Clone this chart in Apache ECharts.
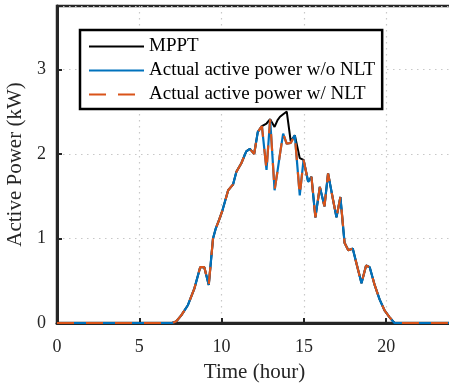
<!DOCTYPE html>
<html>
<head>
<meta charset="utf-8">
<script src="https://cdn.jsdelivr.net/npm/echarts@6/dist/echarts.min.js"></script>
<style>
html,body{margin:0;padding:0;background:#fff;}
#chart{width:449px;height:389px;}
</style>
</head>
<body>
<div id="chart"></div>
<script>
// Time (hour)
var times = [0, 7.0, 7.25, 7.55, 7.95, 8.35, 8.7, 8.95, 9.22, 9.48, 9.65, 9.85, 10.05, 10.4, 10.7, 10.9, 11.2, 11.5, 11.72, 11.98, 12.2, 12.45, 12.73, 12.95, 13.22, 13.4, 13.55, 13.74, 13.96, 14.2, 14.45, 14.75, 14.98, 15.26, 15.46, 15.7, 15.97, 16.25, 16.47, 16.78, 16.98, 17.22, 17.47, 17.7, 17.97, 18.2, 18.5, 18.78, 19.0, 19.3, 19.6, 19.9, 20.2, 20.5, 24];
// MPPT available power (kW)
var mppt = [0, 0, 0.02, 0.09, 0.21, 0.41, 0.66, 0.66, 0.45, 1.0, 1.12, 1.22, 1.33, 1.57, 1.64, 1.79, 1.89, 2.03, 2.06, 2.0, 2.26, 2.33, 2.36, 2.41, 2.32, 2.40, 2.44, 2.47, 2.50, 2.15, 2.22, 1.95, 1.93, 1.67, 1.73, 1.25, 1.61, 1.38, 1.77, 1.45, 1.25, 1.49, 0.95, 0.86, 0.88, 0.70, 0.47, 0.68, 0.66, 0.45, 0.28, 0.15, 0.07, 0, 0];
// Actual active power without NLT (kW)
var actualWo = [0, 0, 0.02, 0.09, 0.21, 0.41, 0.66, 0.66, 0.45, 1.0, 1.12, 1.22, 1.33, 1.57, 1.64, 1.79, 1.89, 2.03, 2.06, 2.0, 2.26, 2.33, 1.81, 2.41, 1.57, 1.80, 2.00, 2.24, 2.12, 2.13, 2.22, 1.51, 1.93, 1.67, 1.73, 1.25, 1.61, 1.38, 1.77, 1.45, 1.25, 1.49, 0.95, 0.86, 0.88, 0.70, 0.47, 0.68, 0.66, 0.45, 0.28, 0.15, 0.07, 0, 0];
// Actual active power with NLT (kW)
var actualW = [0, 0, 0.02, 0.09, 0.21, 0.41, 0.66, 0.66, 0.45, 1.0, 1.12, 1.22, 1.33, 1.57, 1.64, 1.79, 1.89, 2.03, 2.06, 2.0, 2.26, 2.33, 1.81, 2.41, 1.57, 1.80, 2.00, 2.24, 2.12, 2.13, 2.22, 1.51, 1.93, 1.67, 1.73, 1.25, 1.61, 1.38, 1.77, 1.45, 1.25, 1.49, 0.95, 0.86, 0.88, 0.70, 0.47, 0.68, 0.66, 0.45, 0.28, 0.15, 0.07, 0, 0];

var seriesNames = ['MPPT', 'Actual active power w/o NLT', 'Actual active power w/ NLT'];
var xTicks = [0, 5, 10, 15, 20];
var yTicks = [0, 1, 2, 3];

function pairs(ys) { return times.map(function (t, i) { return [t, ys[i]]; }); }

var FONT = '"Liberation Serif", "Times New Roman", serif';
var DARK = '#262626';
var chart = echarts.init(document.getElementById('chart'), null, {renderer: 'canvas'});
chart.setOption({
  animation: false,
  backgroundColor: '#fff',
  grid: {left: 57, top: 6, width: 395, height: 317, outerBoundsMode: 'none', containLabel: false,
    show: true, borderColor: DARK, borderWidth: 2.5, backgroundColor: 'transparent'},
  legend: {
    orient: 'vertical', left: 80, top: 30,
    padding: [7, 7, 5, 8], itemGap: 5, itemWidth: 55, itemHeight: 18,
    borderColor: '#000', borderWidth: 2.5, backgroundColor: '#fff',
    itemStyle: {opacity: 0},
    textStyle: {fontFamily: FONT, fontSize: 19, color: '#000'},
    data: seriesNames
  },
  xAxis: {
    type: 'value', min: 0, max: 24, interval: 5,
    name: 'Time (hour)', nameLocation: 'middle', nameGap: 39,
    nameTextStyle: {fontFamily: FONT, fontSize: 21, color: DARK},
    axisLine: {show: true, lineStyle: {color: DARK, width: 3}},
    axisTick: {show: true, inside: true, length: 5, lineStyle: {color: DARK, width: 2}},
    axisLabel: {fontFamily: FONT, fontSize: 18, color: DARK, margin: 15, showMaxLabel: false,
      formatter: function (v) { return xTicks.indexOf(v) >= 0 ? String(v) : ''; }},
    splitLine: {show: true, lineStyle: {color: '#c8c8c8', width: 1.2, type: [1.5, 4.5]}}
  },
  yAxis: {
    type: 'value', min: 0, max: 3.75, interval: 1,
    name: 'Active Power (kW)', nameLocation: 'middle', nameGap: 28,
    nameTextStyle: {fontFamily: FONT, fontSize: 21, color: DARK},
    axisLine: {show: true, lineStyle: {color: DARK, width: 3}},
    axisTick: {show: true, inside: true, length: 5, lineStyle: {color: DARK, width: 2}},
    axisLabel: {fontFamily: FONT, fontSize: 18, color: DARK, margin: 11, showMaxLabel: false,
      formatter: function (v) { return yTicks.indexOf(v) >= 0 ? String(v) : ''; }},
    splitLine: {show: true, lineStyle: {color: '#c8c8c8', width: 1.2, type: [1.5, 4.5]}}
  },
  series: [
    {name: seriesNames[0], type: 'line', data: pairs(mppt), symbol: 'none', z: 3,
      lineStyle: {color: '#000000', width: 2}, itemStyle: {color: '#000000'}},
    {name: seriesNames[1], type: 'line', data: pairs(actualWo), symbol: 'none', z: 4,
      lineStyle: {color: '#0072BD', width: 2.2}, itemStyle: {color: '#0072BD'}},
    {name: seriesNames[2], type: 'line', data: pairs(actualW), symbol: 'none', z: 5,
      lineStyle: {color: '#D95319', width: 2.2, type: [17, 12]}, itemStyle: {color: '#D95319'}}
  ]
});
</script>
</body>
</html>
